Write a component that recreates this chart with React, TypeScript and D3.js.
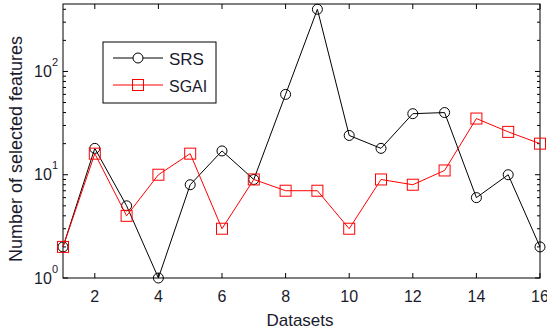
import { useEffect, useRef } from 'react'
import * as d3 from 'd3'

const datasets = [1, 2, 3, 4, 5, 6, 7, 8, 9, 10, 11, 12, 13, 14, 15, 16]
const srs = [2, 18, 5, 1, 8, 17, 9, 60, 400, 24, 18, 39, 40, 6, 10, 2]
const sgai = [2, 16, 4, 10, 16, 3, 9, 7, 7, 3, 9, 8, 11, 35, 26, 20]
const xTicks = [2, 4, 6, 8, 10, 12, 14, 16]
const yDecades = [0, 1, 2]

export default function App() {
  const svgRef = useRef<SVGSVGElement>(null)

  useEffect(() => {
    if (!svgRef.current) return
    const svg = d3.select(svgRef.current)
    svg.selectAll('*').remove()

    const width = 547
    const height = 334
    const margin = { top: 4, right: 7, bottom: 56, left: 63 }
    const innerWidth = width - margin.left - margin.right
    const innerHeight = height - margin.top - margin.bottom

    const x = d3.scaleLinear().domain([1, 16]).range([0, innerWidth])
    const y = d3.scaleLog().domain([1, 450]).range([innerHeight, 0])

    const g = svg.append('g').attr('transform', `translate(${margin.left},${margin.top})`)
    const font = 'Liberation Sans, Arial, sans-serif'
    const textColor = '#1a1a2e'

    // frame
    g.append('rect')
      .attr('width', innerWidth).attr('height', innerHeight)
      .attr('fill', 'none').attr('stroke', '#000').attr('stroke-width', 1)

    // x ticks (bottom and top, inward)
    xTicks.forEach(t => {
      const px = x(t)
      g.append('line').attr('x1', px).attr('x2', px).attr('y1', innerHeight).attr('y2', innerHeight - 5).attr('stroke', '#000')
      g.append('line').attr('x1', px).attr('x2', px).attr('y1', 0).attr('y2', 5).attr('stroke', '#000')
      g.append('text')
        .attr('x', px).attr('y', innerHeight + 24)
        .attr('text-anchor', 'middle')
        .attr('font-family', font).attr('font-size', 16).attr('fill', textColor)
        .text(t)
    })

    // y ticks, major + minor on both sides
    const minor: number[] = []
    for (let d = 0; d < 3; d++) {
      for (let k = 2; k <= 9; k++) {
        const v = k * Math.pow(10, d)
        if (v <= 450) minor.push(v)
      }
    }
    minor.forEach(v => {
      const py = y(v)
      g.append('line').attr('x1', 0).attr('x2', 3).attr('y1', py).attr('y2', py).attr('stroke', '#000')
      g.append('line').attr('x1', innerWidth).attr('x2', innerWidth - 3).attr('y1', py).attr('y2', py).attr('stroke', '#000')
    })
    yDecades.forEach(d => {
      const py = y(Math.pow(10, d))
      g.append('line').attr('x1', 0).attr('x2', 5).attr('y1', py).attr('y2', py).attr('stroke', '#000')
      g.append('line').attr('x1', innerWidth).attr('x2', innerWidth - 5).attr('y1', py).attr('y2', py).attr('stroke', '#000')
      const txt = g.append('text')
        .attr('x', -5).attr('y', py + 5.5)
        .attr('text-anchor', 'end')
        .attr('font-family', font).attr('font-size', 16).attr('fill', textColor)
      txt.append('tspan').text('10')
      txt.append('tspan').attr('dy', -11).attr('font-size', 11).text(d)
    })

    const line = d3.line<number>()
      .x((_, i) => x(datasets[i]))
      .y(d => y(d))

    // SRS black line with circles
    g.append('path').datum(srs)
      .attr('fill', 'none').attr('stroke', '#000').attr('stroke-width', 1).attr('d', line)
    g.selectAll('.srs').data(srs).enter().append('circle')
      .attr('cx', (_, i) => x(datasets[i])).attr('cy', d => y(d))
      .attr('r', 5).attr('fill', 'none').attr('stroke', '#000').attr('stroke-width', 1)

    // SGAI red line with squares
    g.append('path').datum(sgai)
      .attr('fill', 'none').attr('stroke', '#ff0000').attr('stroke-width', 1).attr('d', line)
    g.selectAll('.sgai').data(sgai).enter().append('rect')
      .attr('x', (_, i) => x(datasets[i]) - 5.5).attr('y', d => y(d) - 5.5)
      .attr('width', 11).attr('height', 11)
      .attr('fill', 'none').attr('stroke', '#ff0000').attr('stroke-width', 1)

    // legend
    const lg = svg.append('g').attr('transform', 'translate(103,42)')
    lg.append('rect').attr('width', 113).attr('height', 61)
      .attr('fill', '#fff').attr('stroke', '#000').attr('stroke-width', 1)
    lg.append('line').attr('x1', 10).attr('x2', 60).attr('y1', 16).attr('y2', 16).attr('stroke', '#000')
    lg.append('circle').attr('cx', 35).attr('cy', 16).attr('r', 5).attr('fill', '#fff').attr('stroke', '#000')
    lg.append('text').attr('x', 66).attr('y', 23).attr('font-family', font).attr('font-size', 17).attr('fill', textColor).text('SRS')
    lg.append('line').attr('x1', 10).attr('x2', 60).attr('y1', 43).attr('y2', 43).attr('stroke', '#ff0000')
    lg.append('rect').attr('x', 29.5).attr('y', 37.5).attr('width', 11).attr('height', 11).attr('fill', 'none').attr('stroke', '#ff0000')
    lg.append('text').attr('x', 66).attr('y', 49.5).attr('font-family', font).attr('font-size', 16).attr('fill', textColor).text('SGAI')

    // axis labels
    svg.append('text')
      .attr('x', 300).attr('y', 326)
      .attr('text-anchor', 'middle')
      .attr('font-family', font).attr('font-size', 17).attr('fill', textColor)
      .text('Datasets')
    svg.append('text')
      .attr('transform', 'translate(22,149) rotate(-90)')
      .attr('text-anchor', 'middle')
      .attr('font-family', font).attr('font-size', 18).attr('fill', textColor)
      .text('Number of selected features')
  }, [])

  return (
    <svg ref={svgRef} width={547} height={334}
      style={{ position: 'absolute', left: 0, top: 0, background: '#fff' }} />
  )
}
